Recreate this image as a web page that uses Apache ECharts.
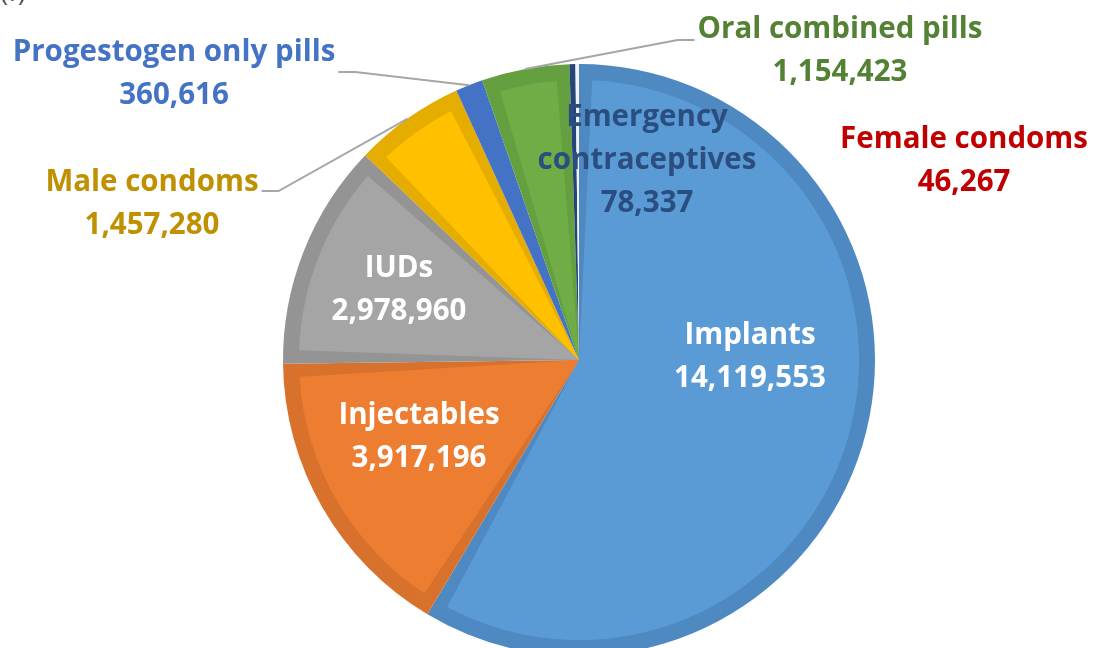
<!DOCTYPE html>
<html>
<head>
<meta charset="utf-8">
<script src="https://cdn.jsdelivr.net/npm/echarts@6/dist/echarts.min.js"></script>
<style>
html,body{margin:0;padding:0;background:#fff;}
#c{width:1093px;height:648px;}
</style>
</head>
<body>
<div id="c"></div>
<script>
const categories = ['Implants','Injectables','IUDs','Male condoms','Progestogen only pills','Oral combined pills','Emergency\ncontraceptives','Female condoms'];
const values = [14119553, 3917196, 2978960, 1457280, 360616, 1154423, 78337, 46267];
const fillColors = ['#5B9BD5','#ED7D31','#A5A5A5','#FFC000','#4472C4','#70AD47','#264478','#F2F2F2'];
const edgeColors = ['#4E89C1','#D7712C','#949494','#E5AD00','#4472C4','#64A03F','#264478','#F2F2F2'];
const labelColors = ['#FFFFFF','#FFFFFF','#FFFFFF','#BF9000','#4472C4','#548235','#2A4E7F','#C00000'];
const outsideWithLine = [false,false,false,true,true,true,false,false];
// label block centres and leader attachment offsets
const labelPos = [[750,357],[419,437],[399,290],[152,204],[174,74],[840,51],[647,161],[964,161]];
const lineAttachDy = [0,0,0,-13,-2,-11,0,0];

const chart = echarts.init(document.getElementById('c'), null, {renderer:'canvas'});
const center = [579, 360];
const R = 296;
const RING = 16;
const GAP_DEG = 5.4;
const fmt = v => v.toLocaleString('en-US');
const FONT = '"Open Sans", "Noto Sans", sans-serif';
const total = values.reduce((a,b)=>a+b,0);
const gapVal = total * GAP_DEG / 360;
const CLEAR = 'rgba(0,0,0,0)';

// dark (edge) slices, full size
const edgeData = categories.map((n,i)=>({name:n, value:values[i], itemStyle:{color:edgeColors[i]}}));
// light inner slices, each shrunk symmetrically inside its own slice
const fillData = [];
categories.forEach((n,i)=>{
  const pad = Math.min(gapVal, values[i]) / 2;
  fillData.push({name:n+'_a', value:pad, itemStyle:{color:CLEAR}});
  fillData.push({name:n, value:values[i]-2*pad, itemStyle:{color:fillColors[i]}});
  fillData.push({name:n+'_b', value:pad, itemStyle:{color:CLEAR}});
});

const labelData = categories.map((n,i)=>({
  name:n, value:values[i],
  itemStyle:{color:CLEAR},
  label:{color:labelColors[i]},
  labelLine:{show:outsideWithLine[i], lineStyle:{color:'#A6A6A6', width:2}}
}));

chart.setOption({
  animation:false,
  backgroundColor:'#fff',
  graphic:[{type:'text', left:0, top:-21, style:{text:'(f)', font:'28px '+FONT, fill:'#595959'}}],
  series:[
    {type:'pie', z:1, center:center, radius:R, startAngle:90, clockwise:true, silent:true, minAngle:0,
     label:{show:false}, labelLine:{show:false}, data:edgeData},
    {type:'pie', z:2, center:center, radius:R-RING, startAngle:90, clockwise:true, silent:true, minAngle:0,
     stillShowZeroSum:false,
     label:{show:false}, labelLine:{show:false}, data:fillData},
    {type:'pie', z:3, center:center, radius:R, startAngle:90, clockwise:true, silent:true,
     avoidLabelOverlap:false,
     label:{show:true, position:'outside', fontFamily:FONT, fontWeight:'bold', fontSize:29.5, lineHeight:43, align:'center',
       formatter:p=>p.name+'\n'+fmt(p.value)},
     labelLine:{show:true, length:10, length2:10},
     labelLayout:function(p){
       const i = p.dataIndex;
       const pos = labelPos[i];
       const res = {x:pos[0], y:pos[1], align:'center', verticalAlign:'middle'};
       if (outsideWithLine[i] && p.labelLinePoints){
         const a = p.labelLinePoints[0];
         const w = p.labelRect.width;
         const ey = pos[1] + lineAttachDy[i];
         let ex, mx;
         if (a[0] > pos[0]) { ex = pos[0] + w/2 + 3; mx = ex + 17; }
         else { ex = pos[0] - w/2 - 3; mx = ex - 17; }
         res.labelLinePoints = [[a[0],a[1]],[mx,ey],[ex,ey]];
       }
       return res;
     },
     data:labelData}
  ]
});
</script>
</body>
</html>
